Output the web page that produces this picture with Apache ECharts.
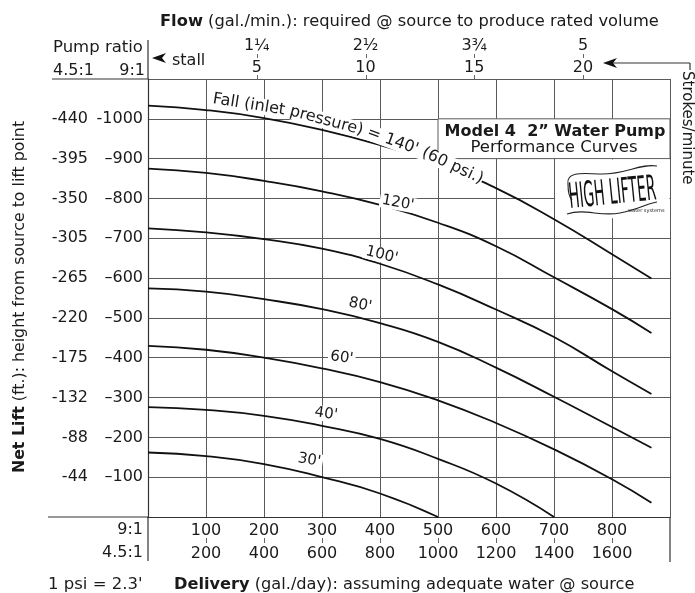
<!DOCTYPE html>
<html><head><meta charset="utf-8">
<script src="https://cdn.jsdelivr.net/npm/echarts@6/dist/echarts.min.js"></script>
<style>html,body{margin:0;padding:0;background:#fff}#c{width:695px;height:593px}</style>
</head><body><div id="c"></div>
<script>
// ---- data ----
const deliveryX = [0, 100, 200, 300, 400, 500, 600, 700, 800, 868];
const fall140 = [1033, 1022, 1002, 972, 934, 888, 826, 748, 660, 599];
const fall120 = [875, 864, 844, 818, 784, 739, 680, 602, 522, 462];
const fall100 = [725, 715, 698, 674, 636, 584, 521, 452, 366, 309];
const fall80  = [574, 566, 547, 522, 487, 440, 375, 302, 226, 174];
const fall60  = [430, 420, 400, 373, 339, 293, 236, 170, 95, 36];
const fall40X = [0, 100, 200, 300, 400, 500, 600, 700];
const fall40  = [276, 269, 254, 229, 196, 146, 84, 0];
const fall30X = [0, 100, 200, 300, 400, 500];
const fall30  = [162, 153, 133, 100, 59, 0];

const lift9to1   = [100, 200, 300, 400, 500, 600, 700, 800, 900, 1000];
const lift4p5to1 = [44, 88, 132, 175, 220, 265, 305, 350, 395, 440];
const delivery9to1   = [100, 200, 300, 400, 500, 600, 700, 800];
const delivery4p5to1 = [200, 400, 600, 800, 1000, 1200, 1400, 1600];
const strokesPerMin = [5, 10, 15, 20];
const flowGpm = ['1¼', '2½', '3¾', '5'];

// the 140' caption follows its curve in pieces (start point in data units)
const fallCaptionStart = [112, 1050];
const fallCaption = [
  {text: 'Fall (inlet ', rot: 9},
  {text: 'pressure) ', rot: 15},
  {text: '= 140\' ', rot: 20},
  {text: '(60 psi.)', rot: 25}
];
const curveLabels = [
  {text: "120'", x: 431, y: 789, rot: 10},
  {text: "100'", x: 403, y: 658, rot: 14},
  {text: "80'", x: 366, y: 533, rot: 12},
  {text: "60'", x: 334, y: 400, rot: 8},
  {text: "40'", x: 307, y: 259, rot: 8},
  {text: "30'", x: 278, y: 143, rot: 10}
];

const FONT = 'DejaVu Sans, Liberation Sans, sans-serif';
const INK = '#1a1a1a';
const GRID = '#5a5a5a';

function pts(xs, ys) { return xs.map((x, i) => [x, ys[i]]); }
function curve(name, xs, ys) {
  return {name, type: 'line', data: pts(xs, ys), symbol: 'none', smooth: 0.5,
    lineStyle: {color: '#111', width: 1.8}, z: 3};
}

const chart = echarts.init(document.getElementById('c'), null, {renderer: 'canvas'});
const option = {
  animation: false,
  backgroundColor: '#fff',
  textStyle: {fontFamily: FONT, color: INK},
  grid: {left: 148, right: 25, top: 79, bottom: 76, containLabel: false},
  xAxis: [
    {type: 'value', position: 'bottom', min: 0, max: 900, interval: 100,
      axisLine: {show: true, lineStyle: {color: '#333', width: 1.2}},
      axisTick: {show: false},
      splitLine: {show: true, lineStyle: {color: GRID, width: 1}},
      axisLabel: {margin: 2, lineHeight: 23, fontSize: 16, color: INK, fontFamily: FONT,
        formatter: v => { const i = delivery9to1.indexOf(v); return i < 0 ? '' : delivery9to1[i] + '\n' + delivery4p5to1[i]; }}
    },
    {type: 'value', position: 'top', min: 0, max: 24, interval: 5,
      axisLine: {show: true, lineStyle: {color: '#333', width: 1.2}},
      axisTick: {show: false},
      splitLine: {show: false},
      axisLabel: {margin: 0, lineHeight: 22, fontSize: 16, color: INK, fontFamily: FONT,
        formatter: v => { const i = strokesPerMin.indexOf(v); return i < 0 ? '' : flowGpm[i] + '\n' + strokesPerMin[i]; }}
    }
  ],
  yAxis: [
    {type: 'value', position: 'left', min: 0, max: 1100, interval: 100,
      axisLine: {show: true, lineStyle: {color: '#333', width: 1.2}},
      axisTick: {show: false},
      splitLine: {show: true, lineStyle: {color: GRID, width: 1}},
      axisLabel: {margin: 5, fontSize: 16, color: INK, fontFamily: FONT,
        formatter: v => { const i = lift9to1.indexOf(v); if (i < 0) return ''; return (v >= 1000 ? '-' : '–') + v; }}
    },
    {type: 'value', position: 'left', offset: 60, min: 0, max: 1100, interval: 100,
      axisLine: {show: false}, axisTick: {show: false}, splitLine: {show: false},
      axisLabel: {margin: 0, fontSize: 16, color: INK, fontFamily: FONT,
        formatter: v => { const i = lift9to1.indexOf(v); return i < 0 ? '' : '-' + lift4p5to1[i]; }}
    }
  ],
  series: [
    curve('140', deliveryX, fall140),
    curve('120', deliveryX, fall120),
    curve('100', deliveryX, fall100),
    curve('80', deliveryX, fall80),
    curve('60', deliveryX, fall60),
    curve('40', fall40X, fall40),
    curve('30', fall30X, fall30)
  ]
};
chart.setOption(option);

const P = (x, y) => chart.convertToPixel({gridIndex: 0}, [x, y]);
const g = [];
function txt(x, y, text, opt) {
  g.push({type: 'text', x, y, z: 120,
    style: Object.assign({text, fill: INK, font: '16px ' + FONT, textAlign: 'left', textVerticalAlign: 'middle'}, opt || {})});
}
function line(x1, y1, x2, y2, w, c) {
  g.push({type: 'line', z: 110, shape: {x1, y1, x2, y2}, style: {stroke: c || '#333', lineWidth: w || 1.2}});
}
function bez(x1, y1, cx1, cy1, cx2, cy2, x2, y2) {
  g.push({type: 'bezierCurve', z: 115, shape: {x1, y1, x2, y2, cpx1: cx1, cpy1: cy1, cpx2: cx2, cpy2: cy2},
    style: {stroke: '#222', fill: null, lineWidth: 1.1}});
}

// frame extensions outside the plot
line(52, 79, 148, 79);
line(48, 517, 148, 517);
line(148, 40, 148, 79);
line(148, 517, 148, 561);
line(670, 517, 670, 562);

// small ticks between the two rows of axis labels
delivery9to1.forEach(v => { const x = Math.round(P(v, 0)[0]) + 0.5; line(x, 538, x, 543, 1, '#666'); });
strokesPerMin.forEach(v => {
  const x = Math.round(chart.convertToPixel({xAxisIndex: 1}, v)) + 0.5;
  line(x, 54, x, 58, 1, '#666');
  line(x, 75, x, 79, 1, '#666');
});

// top texts
g.push({type: 'text', x: 160, y: 22, z: 120, style: {
  text: '{b|Flow} (gal./min.): required @ source to produce rated volume',
  font: '16.3px ' + FONT, fill: INK, textVerticalAlign: 'middle',
  rich: {b: {fontWeight: 'bold', fontSize: 16.3, fontFamily: FONT, fill: INK}}}});
txt(53, 48, 'Pump ratio', {font: '16.5px ' + FONT});
txt(53, 71, '4.5:1');
txt(145, 71, '9:1', {textAlign: 'right'});
g.push({type: 'polygon', z: 120, shape: {points: [[152, 58], [166, 53], [162, 58], [166, 63]]}, style: {fill: '#111'}});
txt(172, 61, 'stall');
g.push({type: 'polygon', z: 120, shape: {points: [[603, 63], [617, 58], [613, 63], [617, 68]]}, style: {fill: '#111'}});
line(613, 63, 690, 63, 1.2);
line(690, 63, 690, 70, 1.2);
g.push({type: 'text', x: 687, y: 71, rotation: -Math.PI / 2, z: 120,
  style: {text: 'Strokes/minute', font: '15px ' + FONT, fill: INK, textAlign: 'left', textVerticalAlign: 'middle'}});

// y title
g.push({type: 'text', x: 20, y: 297, rotation: Math.PI / 2, z: 120, style: {
  text: '{b|Net Lift} (ft.): height from source to lift point',
  font: '15.8px ' + FONT, fill: INK, textAlign: 'center', textVerticalAlign: 'middle',
  rich: {b: {fontWeight: 'bold', fontSize: 15.8, fontFamily: FONT, fill: INK}}}});

// bottom texts
txt(143, 530, '9:1', {textAlign: 'right'});
txt(143, 553, '4.5:1', {textAlign: 'right'});
txt(48, 585, "1 psi = 2.3'", {font: '16.5px ' + FONT});
g.push({type: 'text', x: 174, y: 585, z: 120, style: {
  text: '{b|Delivery} (gal./day): assuming adequate water @ source',
  font: '16.2px ' + FONT, fill: INK, textVerticalAlign: 'middle',
  rich: {b: {fontWeight: 'bold', fontSize: 16.2, fontFamily: FONT, fill: INK}}}});

// title box
const b1 = P(500, 1000), b2 = P(900, 900);
g.push({type: 'rect', z: 100, shape: {x: b1[0], y: b1[1], width: b2[0] - b1[0], height: b2[1] - b1[1]},
  style: {fill: '#fff', stroke: GRID, lineWidth: 1}});
g.push({type: 'text', x: (b1[0] + b2[0]) / 2 + 1, y: b1[1] + 13, z: 120,
  style: {text: 'Model 4  2\u201D Water Pump', font: 'bold 16px ' + FONT, fill: INK, textAlign: 'center', textVerticalAlign: 'middle'}});
g.push({type: 'text', x: (b1[0] + b2[0]) / 2, y: b1[1] + 29, z: 120,
  style: {text: 'Performance Curves', font: '16.5px ' + FONT, fill: INK, textAlign: 'center', textVerticalAlign: 'middle'}});

// logo
const l1 = P(702, 898), l2 = P(899, 750);
g.push({type: 'rect', z: 100, shape: {x: l1[0], y: l1[1], width: l2[0] - l1[0], height: l2[1] - l1[1]}, style: {fill: '#fff'}});
bez(568, 184, 566, 172, 580, 173, 600, 174);
bez(600, 174, 625, 175, 640, 163, 657, 166);
bez(568, 184, 568, 194, 570, 198, 572, 200);
bez(567, 214, 585, 208, 600, 217, 620, 213);
bez(620, 213, 640, 209, 648, 203, 657, 202);
g.push({type: 'text', x: 569, y: 199, z: 120, scaleX: 0.5, scaleY: 1.25, rotation: 0.1,
  style: {text: 'HIGH LIFTER', font: '28px ' + FONT, fill: '#111', textAlign: 'left', textVerticalAlign: 'middle'}});
g.push({type: 'text', x: 628, y: 211, z: 120,
  style: {text: 'water systems', font: '5px ' + FONT, fill: '#222', textAlign: 'left', textVerticalAlign: 'middle'}});

// caption of the 140' curve, laid out piece by piece
(function () {
  const font = '16px ' + FONT;
  const ctx = document.createElement('canvas').getContext('2d');
  ctx.font = font;
  let p = P(fallCaptionStart[0], fallCaptionStart[1]);
  let x = p[0], y = p[1];
  fallCaption.forEach(piece => {
    const a = piece.rot * Math.PI / 180;
    g.push({type: 'text', x, y, rotation: -a, z: 120,
      style: {text: piece.text, font, fill: INK, textAlign: 'left', textVerticalAlign: 'middle',
        backgroundColor: '#fff'}});
    const w = ctx.measureText(piece.text).width;
    x += w * Math.cos(a); y += w * Math.sin(a);
  });
})();

// other curve labels
curveLabels.forEach(l => {
  const p = P(l.x, l.y);
  g.push({type: 'text', x: p[0], y: p[1], rotation: -l.rot * Math.PI / 180, z: 120,
    style: {text: l.text, font: '15px ' + FONT, fill: INK, textAlign: 'center', textVerticalAlign: 'middle',
      backgroundColor: '#fff', padding: [0, 2]}});
});

chart.setOption({graphic: g});
</script></body></html>
